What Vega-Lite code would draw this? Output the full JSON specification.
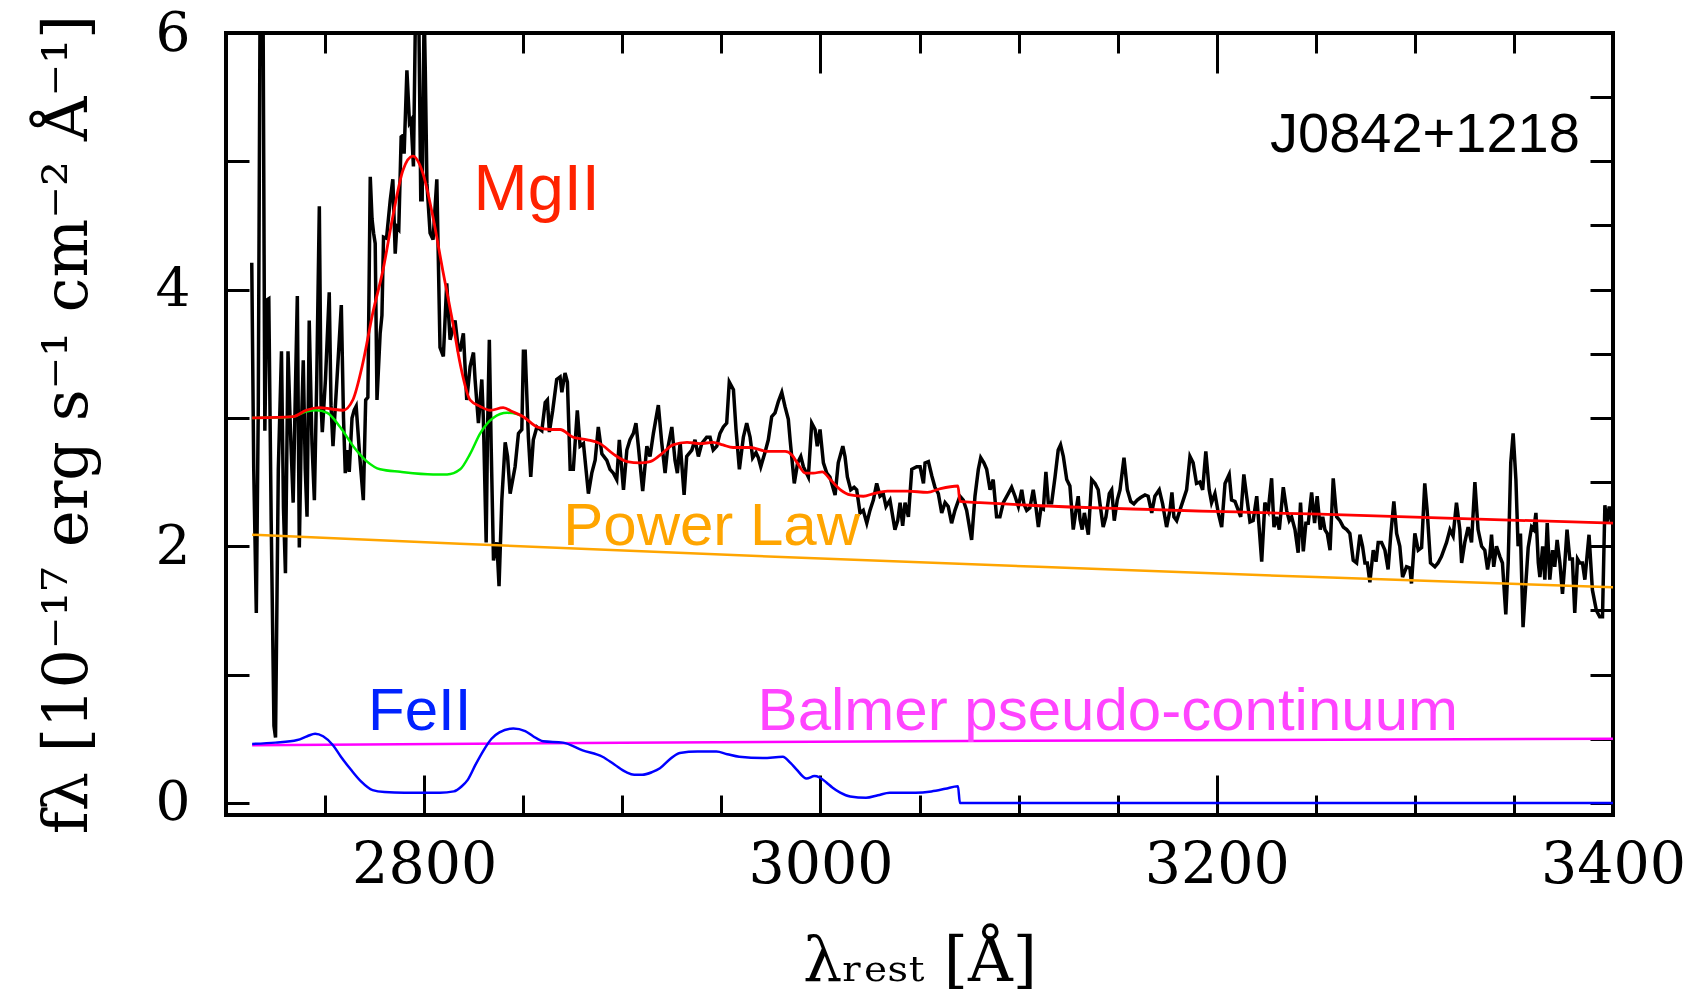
{
"$schema": "https://vega.github.io/schema/vega-lite/v6.json",
"width": 1387, "height": 782,
"autosize": {"type": "none"},
"padding": {"left": 226, "top": 33, "right": 93, "bottom": 186},
"background": "white",
"config": {"view": {"stroke": "black", "strokeWidth": 4}, "axis": {"grid": false, "domain": false, "labelFlush": false, "labelOverlap": false, "labelBound": false, "tickColor": "black", "tickWidth": 3, "labelColor": "black", "titleColor": "black", "labelFont": "DejaVu Serif", "titleFont": "DejaVu Serif", "titleFontWeight": "normal"}},
"resolve": {"axis": {"x": "independent", "y": "independent"}},
"datasets": {
"spectrum": [
{"w":2713.0,"f":4.21},{"w":2714.0,"f":2.6},{"w":2715.3,"f":1.48},{"w":2716.3,"f":3.1},{"w":2717.3,"f":6.6},{"w":2718.6,"f":6.6},{"w":2719.6,"f":2.9},{"w":2720.6,"f":3.92},{"w":2721.6,"f":3.93},{"w":2722.8,"f":2.2},{"w":2724.2,"f":0.6},{"w":2725.0,"f":0.51},{"w":2726.4,"f":2.6},{"w":2728.0,"f":3.52},{"w":2729.0,"f":2.3},{"w":2730.0,"f":1.79},{"w":2731.3,"f":3.52},{"w":2732.5,"f":2.91},{"w":2733.9,"f":2.34},{"w":2735.0,"f":3.2},{"w":2736.0,"f":3.95},{"w":2737.0,"f":1.99},{"w":2738.0,"f":2.9},{"w":2739.0,"f":3.45},{"w":2740.0,"f":2.6},{"w":2740.9,"f":2.23},{"w":2742.0,"f":3.76},{"w":2743.4,"f":2.8},{"w":2744.6,"f":2.36},{"w":2745.8,"f":3.3},{"w":2747.1,"f":4.65},{"w":2748.0,"f":3.1},{"w":2748.6,"f":2.89},{"w":2750.2,"f":3.3},{"w":2752.1,"f":3.98},{"w":2753.0,"f":3.1},{"w":2754.0,"f":2.78},{"w":2756.0,"f":3.3},{"w":2758.2,"f":3.88},{"w":2759.3,"f":3.0},{"w":2760.2,"f":2.57},{"w":2761.2,"f":2.75},{"w":2762.2,"f":2.58},{"w":2763.6,"f":3.0},{"w":2764.7,"f":3.06},{"w":2765.7,"f":3.09},{"w":2767.5,"f":2.7},{"w":2769.3,"f":2.36},{"w":2770.5,"f":3.14},{"w":2771.6,"f":3.16},{"w":2772.8,"f":4.88},{"w":2773.7,"f":4.55},{"w":2774.5,"f":4.44},{"w":2775.3,"f":4.36},{"w":2776.2,"f":3.14},{"w":2777.8,"f":3.66},{"w":2778.7,"f":3.8},{"w":2779.5,"f":4.41},{"w":2781.0,"f":4.4},{"w":2782.9,"f":4.7},{"w":2784.2,"f":4.86},{"w":2785.4,"f":4.28},{"w":2786.2,"f":4.49},{"w":2787.2,"f":4.47},{"w":2788.4,"f":5.19},{"w":2789.2,"f":5.2},{"w":2789.9,"f":5.06},{"w":2791.3,"f":5.71},{"w":2792.6,"f":5.3},{"w":2793.4,"f":5.32},{"w":2794.6,"f":4.96},{"w":2796.0,"f":6.6},{"w":2797.0,"f":6.6},{"w":2798.3,"f":4.7},{"w":2799.0,"f":4.7},{"w":2800.0,"f":6.2},{"w":2800.6,"f":5.69},{"w":2801.4,"f":4.83},{"w":2803.0,"f":4.44},{"w":2804.5,"f":4.39},{"w":2806.4,"f":4.86},{"w":2808.0,"f":3.55},{"w":2809.7,"f":3.48},{"w":2811.4,"f":4.05},{"w":2813.1,"f":3.61},{"w":2815.6,"f":3.76},{"w":2817.3,"f":3.53},
{"w":2818.2,"f":3.53},{"w":2819.8,"f":3.66},{"w":2821.5,"f":3.14},{"w":2823.2,"f":3.4},{"w":2824.9,"f":3.51},{"w":2825.7,"f":3.3},{"w":2827.4,"f":2.96},{"w":2829.1,"f":3.3},{"w":2829.9,"f":2.99},{"w":2831.3,"f":2.03},{"w":2832.0,"f":2.9},{"w":2832.9,"f":3.61},{"w":2833.8,"f":2.8},{"w":2835.0,"f":1.89},{"w":2836.7,"f":2.03},{"w":2837.8,"f":1.69},{"w":2839.2,"f":2.36},{"w":2840.9,"f":2.81},{"w":2842.1,"f":2.7},{"w":2843.4,"f":2.41},{"w":2845.9,"f":2.62},{"w":2847.6,"f":2.88},{"w":2849.3,"f":2.91},{"w":2850.1,"f":3.52},{"w":2851.0,"f":3.52},{"w":2852.6,"f":2.85},{"w":2853.8,"f":2.54},{"w":2855.1,"f":2.83},{"w":2856.9,"f":2.93},{"w":2859.4,"f":2.9},{"w":2861.1,"f":3.12},{"w":2862.2,"f":3.14},{"w":2863.2,"f":2.89},{"w":2864.9,"f":3.06},{"w":2866.9,"f":3.3},{"w":2868.6,"f":3.32},{"w":2869.5,"f":3.2},{"w":2871.1,"f":3.35},{"w":2872.3,"f":3.28},{"w":2873.7,"f":2.6},{"w":2875.3,"f":2.6},{"w":2877.3,"f":3.06},{"w":2878.7,"f":2.78},{"w":2880.4,"f":2.8},{"w":2882.9,"f":2.41},{"w":2884.6,"f":2.57},{"w":2886.3,"f":2.67},{"w":2887.9,"f":2.93},{"w":2889.7,"f":2.72},{"w":2892.2,"f":2.67},{"w":2893.8,"f":2.6},{"w":2895.5,"f":2.57},{"w":2897.2,"f":2.52},{"w":2898.5,"f":2.83},{"w":2900.6,"f":2.44},{"w":2902.3,"f":2.75},{"w":2903.9,"f":2.83},{"w":2905.6,"f":2.88},{"w":2906.9,"f":2.96},{"w":2908.1,"f":2.78},{"w":2910.3,"f":2.43},{"w":2912.4,"f":2.78},{"w":2914.0,"f":2.7},{"w":2915.7,"f":2.88},{"w":2918.2,"f":3.1},{"w":2919.9,"f":2.81},{"w":2921.6,"f":2.57},{"w":2922.8,"f":2.75},{"w":2925.0,"f":2.93},{"w":2926.6,"f":2.67},{"w":2927.8,"f":2.57},{"w":2929.2,"f":2.81},{"w":2931.2,"f":2.4},{"w":2932.5,"f":2.7},{"w":2935.1,"f":2.75},{"w":2936.7,"f":2.83},{"w":2938.4,"f":2.7},{"w":2940.1,"f":2.8},{"w":2942.6,"f":2.85},{"w":2944.3,"f":2.85},{"w":2945.9,"f":2.75},{"w":2947.7,"f":2.78},{"w":2949.3,"f":2.88},{"w":2951.0,"f":2.93},{"w":2952.7,"f":2.96},{"w":2954.0,"f":3.28},{"w":2956.1,"f":3.22},{"w":2957.4,"f":2.91},{"w":2959.1,"f":2.6},{"w":2961.1,"f":2.85},{"w":2962.8,"f":2.96},{"w":2964.5,"f":2.85},{"w":2965.8,"f":2.69},{"w":2967.5,"f":2.73},{"w":2968.7,"f":2.69},{"w":2969.9,"f":2.62},{"w":2972.0,"f":2.73},{"w":2973.7,"f":2.83},{"w":2975.4,"f":3.01},{"w":2977.1,"f":3.04},{"w":2978.8,"f":3.13},{"w":2980.5,"f":3.2},{"w":2982.1,"f":3.09},{"w":2983.8,"f":2.99},{"w":2984.7,"f":2.83},{"w":2986.8,"f":2.49},{"w":2988.5,"f":2.65},{"w":2990.1,"f":2.7},{"w":2991.4,"f":2.62},{"w":2993.9,"f":2.54},{"w":2995.6,"f":2.96},{"w":2997.3,"f":2.91},{"w":2998.4,"f":2.78},{"w":2999.8,"f":2.91},{"w":3001.5,"f":2.65},{"w":3003.2,"f":2.57},{"w":3004.8,"f":2.54},{"w":3007.4,"f":2.4},{"w":3009.0,"f":2.65},{"w":3011.3,"f":2.78},{"w":3012.4,"f":2.7},{"w":3013.6,"f":2.54},{"w":3015.3,"f":2.44},{"w":3017.0,"f":2.46},{"w":3018.3,"f":2.44},{"w":3020.0,"f":2.26},{"w":3021.6,"f":2.28},{"w":3023.4,"f":2.18},{"w":3025.0,"f":2.28},{"w":3026.7,"f":2.36},{"w":3028.4,"f":2.49},{"w":3030.1,"f":2.39},{"w":3031.7,"f":2.41},{"w":3033.1,"f":2.31},{"w":3035.1,"f":2.36},{"w":3037.6,"f":2.13},{"w":3039.0,"f":2.2},{"w":3040.2,"f":2.34},{"w":3041.5,"f":2.16},{"w":3042.7,"f":2.34},{"w":3044.4,"f":2.23},{"w":3046.1,"f":2.6},{"w":3048.6,"f":2.62},{"w":3050.3,"f":2.62},{"w":3052.0,"f":2.49},{"w":3052.8,"f":2.65},{"w":3054.5,"f":2.66},{"w":3056.2,"f":2.55},{"w":3057.8,"f":2.46},{"w":3059.5,"f":2.41},{"w":3061.2,"f":2.26},{"w":3062.9,"f":2.34},{"w":3064.5,"f":2.31},{"w":3066.2,"f":2.18},{"w":3067.9,"f":2.28},{"w":3070.4,"f":2.39},{"w":3072.1,"f":2.36},{"w":3073.8,"f":2.28},{"w":3076.3,"f":2.05},{"w":3078.0,"f":2.39},{"w":3079.7,"f":2.6},{"w":3080.9,"f":2.69},{"w":3082.5,"f":2.65},{"w":3083.9,"f":2.6},{"w":3085.6,"f":2.44},{"w":3087.2,"f":2.52},{"w":3088.9,"f":2.23},{"w":3090.6,"f":2.23},{"w":3092.3,"f":2.34},{"w":3094.8,"f":2.41},{"w":3096.5,"f":2.46},{"w":3098.2,"f":2.39},{"w":3099.9,"f":2.31},
{"w":3101.6,"f":2.44},{"w":3102.7,"f":2.33},{"w":3104.1,"f":2.28},{"w":3105.7,"f":2.3},{"w":3107.4,"f":2.44},{"w":3108.8,"f":2.3},{"w":3110.0,"f":2.15},{"w":3111.3,"f":2.3},{"w":3112.5,"f":2.29},{"w":3113.8,"f":2.58},{"w":3115.0,"f":2.34},{"w":3116.7,"f":2.34},{"w":3118.4,"f":2.54},{"w":3120.0,"f":2.75},{"w":3121.2,"f":2.79},{"w":3122.6,"f":2.7},{"w":3124.3,"f":2.52},{"w":3125.9,"f":2.47},{"w":3127.6,"f":2.13},{"w":3129.0,"f":2.28},{"w":3130.1,"f":2.39},{"w":3131.0,"f":2.21},{"w":3132.1,"f":2.13},{"w":3133.2,"f":2.26},{"w":3135.2,"f":2.09},{"w":3136.9,"f":2.52},{"w":3138.6,"f":2.49},{"w":3140.2,"f":2.44},{"w":3141.1,"f":2.33},{"w":3142.7,"f":2.15},{"w":3144.1,"f":2.23},{"w":3145.8,"f":2.41},{"w":3147.0,"f":2.44},{"w":3148.3,"f":2.2},{"w":3149.8,"f":2.36},{"w":3151.2,"f":2.44},{"w":3153.2,"f":2.69},{"w":3154.9,"f":2.44},{"w":3156.6,"f":2.35},{"w":3158.2,"f":2.33},{"w":3159.9,"f":2.36},{"w":3161.6,"f":2.38},{"w":3163.8,"f":2.4},{"w":3165.4,"f":2.39},{"w":3167.2,"f":2.26},{"w":3168.8,"f":2.39},{"w":3171.0,"f":2.44},{"w":3172.7,"f":2.33},{"w":3174.7,"f":2.15},{"w":3176.4,"f":2.28},{"w":3177.4,"f":2.42},{"w":3178.4,"f":2.23},{"w":3179.8,"f":2.2},{"w":3181.4,"f":2.28},{"w":3183.1,"f":2.36},{"w":3184.8,"f":2.44},{"w":3186.5,"f":2.7},{"w":3188.1,"f":2.65},{"w":3189.8,"f":2.49},{"w":3191.5,"f":2.5},{"w":3192.9,"f":2.44},{"w":3194.5,"f":2.74},{"w":3196.2,"f":2.44},{"w":3197.4,"f":2.34},{"w":3199.1,"f":2.41},{"w":3200.8,"f":2.26},{"w":3202.5,"f":2.15},{"w":3204.2,"f":2.49},{"w":3206.3,"f":2.56},{"w":3207.5,"f":2.36},{"w":3209.2,"f":2.35},{"w":3210.9,"f":2.28},{"w":3212.1,"f":2.23},{"w":3213.7,"f":2.56},{"w":3215.1,"f":2.39},{"w":3216.8,"f":2.19},{"w":3218.4,"f":2.2},{"w":3220.2,"f":2.39},{"w":3221.5,"f":2.13},{"w":3222.7,"f":1.88},{"w":3224.3,"f":2.34},{"w":3226.0,"f":2.28},{"w":3227.7,"f":2.53},{"w":3228.9,"f":2.15},{"w":3230.2,"f":2.23},{"w":3231.6,"f":2.13},{"w":3233.6,"f":2.46},{"w":3235.3,"f":2.28},{"w":3236.6,"f":2.2},{"w":3237.8,"f":2.23},{"w":3239.5,"f":2.13},{"w":3241.1,"f":1.95},{"w":3242.3,"f":2.34},{"w":3243.7,"f":1.96},{"w":3245.0,"f":2.18},{"w":3246.2,"f":2.18},{"w":3247.9,"f":2.42},{"w":3249.4,"f":2.18},{"w":3250.7,"f":2.39},{"w":3252.3,"f":2.13},{"w":3253.5,"f":2.23},{"w":3254.6,"f":2.13},{"w":3255.8,"f":2.1},{"w":3257.2,"f":1.97},{"w":3258.8,"f":2.53},{"w":3260.5,"f":2.23},{"w":3262.2,"f":2.2},{"w":3263.9,"f":2.15},{"w":3265.6,"f":2.13},{"w":3267.2,"f":2.1},{"w":3268.9,"f":1.89},{"w":3270.6,"f":1.87},{"w":3272.3,"f":2.09},{"w":3273.6,"f":2.0},{"w":3274.8,"f":1.87},{"w":3276.0,"f":1.87},{"w":3277.3,"f":1.72},{"w":3279.0,"f":1.97},{"w":3280.4,"f":1.88},{"w":3281.5,"f":2.03},{"w":3283.2,"f":2.03},{"w":3284.9,"f":1.97},{"w":3286.5,"f":1.82},{"w":3287.9,"f":2.1},{"w":3289.4,"f":2.35},{"w":3290.8,"f":2.1},{"w":3292.4,"f":2.0},{"w":3293.8,"f":1.76},{"w":3295.8,"f":1.84},{"w":3297.5,"f":1.83},{"w":3298.3,"f":1.71},{"w":3300.0,"f":2.1},{"w":3301.7,"f":1.97},{"w":3303.4,"f":1.99},{"w":3305.0,"f":2.49},{"w":3306.2,"f":2.28},{"w":3307.9,"f":1.87},{"w":3310.1,"f":1.84},{"w":3311.7,"f":1.87},{"w":3313.4,"f":1.92},{"w":3316.0,"f":2.03},{"w":3317.7,"f":2.13},{"w":3319.3,"f":2.08},{"w":3321.0,"f":2.34},{"w":3322.7,"f":2.13},{"w":3323.6,"f":1.87},{"w":3325.2,"f":2.03},{"w":3326.9,"f":2.15},{"w":3328.6,"f":2.03},{"w":3330.3,"f":2.5},{"w":3331.9,"f":2.13},{"w":3333.7,"f":2.0},{"w":3335.3,"f":1.97},{"w":3336.7,"f":1.82},{"w":3337.8,"f":1.92},{"w":3338.7,"f":2.09},{"w":3339.8,"f":1.84},{"w":3341.2,"f":2.0},{"w":3342.9,"f":1.92},{"w":3344.2,"f":1.87},{"w":3345.9,"f":1.47},{"w":3347.1,"f":1.87},{"w":3348.4,"f":2.65},{"w":3349.6,"f":2.88},{"w":3351.0,"f":2.52},{"w":3352.1,"f":2.0},{"w":3353.3,"f":2.1},{"w":3354.6,"f":1.37},{"w":3356.0,"f":1.71},{"w":3357.2,"f":1.99},{"w":3358.9,"f":2.15},{"w":3360.0,"f":2.13},{"w":3361.1,"f":2.26},{"w":3362.3,"f":1.87},{"w":3363.1,"f":1.76},{"w":3364.5,"f":2.0},{"w":3365.6,"f":1.74},{"w":3366.8,"f":2.18},{"w":3368.1,"f":1.74},{"w":3369.5,"f":1.97},{"w":3370.6,"f":1.84},{"w":3371.8,"f":2.05},{"w":3373.2,"f":1.87},{"w":3374.5,"f":1.63},{"w":3375.7,"f":1.87},{"w":3376.8,"f":2.13},{"w":3378.2,"f":1.9},{"w":3379.5,"f":1.9},{"w":3380.7,"f":1.48},{"w":3382.1,"f":1.9},{"w":3383.2,"f":1.87},{"w":3384.6,"f":1.87},{"w":3385.8,"f":1.74},{"w":3387.9,"f":2.09},{"w":3389.6,"f":1.66},{"w":3391.6,"f":1.5},{"w":3393.3,"f":1.45},{"w":3394.7,"f":1.45},{"w":3395.9,"f":2.32},{"w":3396.9,"f":2.18},{"w":3398.1,"f":2.31},{"w":3399.3,"f":2.18},{"w":3400.0,"f":2.3}
],
"model": [
{"w":2713.2,"f":3.0},{"w":2733.8,"f":3.01},{"w":2740.5,"f":3.06},{"w":2747.2,"f":3.08},{"w":2753.0,"f":3.07},{"w":2759.0,"f":3.06},{"w":2764.0,"f":3.14},{"w":2769.1,"f":3.43},{"w":2774.1,"f":3.82},{"w":2779.2,"f":4.15},{"w":2784.2,"f":4.57},{"w":2789.3,"f":4.93},{"w":2794.3,"f":5.04},{"w":2799.3,"f":4.91},{"w":2804.4,"f":4.57},{"w":2809.4,"f":4.15},{"w":2814.5,"f":3.74},{"w":2818.2,"f":3.42},{"w":2823.2,"f":3.14},{"w":2828.3,"f":3.09},{"w":2833.3,"f":3.06},{"w":2839.9,"f":3.08},{"w":2844.4,"f":3.05},{"w":2850.0,"f":3.01},{"w":2857.0,"f":2.93},{"w":2863.6,"f":2.91},{"w":2868.6,"f":2.91},{"w":2875.2,"f":2.85},{"w":2882.3,"f":2.83},{"w":2888.8,"f":2.8},{"w":2895.4,"f":2.72},{"w":2902.4,"f":2.66},{"w":2909.0,"f":2.65},{"w":2914.0,"f":2.66},{"w":2919.1,"f":2.71},{"w":2925.6,"f":2.79},{"w":2932.7,"f":2.81},{"w":2939.2,"f":2.8},{"w":2945.8,"f":2.81},{"w":2950.8,"f":2.79},{"w":2955.9,"f":2.77},{"w":2964.5,"f":2.77},{"w":2973.1,"f":2.74},{"w":2982.2,"f":2.74},{"w":2985.7,"f":2.71},{"w":2988.3,"f":2.65},{"w":2992.4,"f":2.57},{"w":2996.4,"f":2.57},{"w":3000.9,"f":2.58},{"w":3005.0,"f":2.52},{"w":3010.1,"f":2.44},{"w":3015.1,"f":2.4},{"w":3021.7,"f":2.39},{"w":3026.8,"f":2.41},{"w":3033.8,"f":2.43},{"w":3043.9,"f":2.43},{"w":3054.0,"f":2.42},{"w":3060.6,"f":2.45},{"w":3069.4,"f":2.47},{"w":3070.4,"f":2.35},{"w":3080.5,"f":2.34},{"w":3105.7,"f":2.32},{"w":3252.0,"f":2.25},{"w":3400.0,"f":2.18}
],
"nomgii": [
{"w":2713.2,"f":3.0},{"w":2733.8,"f":3.01},{"w":2740.5,"f":3.05},{"w":2745.5,"f":3.06},{"w":2751.1,"f":3.04},{"w":2757.6,"f":2.93},{"w":2764.2,"f":2.78},{"w":2771.2,"f":2.66},{"w":2777.8,"f":2.6},{"w":2787.9,"f":2.58},{"w":2804.5,"f":2.56},{"w":2811.6,"f":2.56},{"w":2818.2,"f":2.6},{"w":2823.2,"f":2.72},{"w":2828.3,"f":2.88},{"w":2834.8,"f":3.0},{"w":2841.9,"f":3.04},{"w":2846.9,"f":3.03},{"w":2850.0,"f":3.01}
],
"feii": [
{"w":2713.2,"f":0.46},{"w":2725,"f":0.47},{"w":2736,"f":0.49},{"w":2741,"f":0.52},{"w":2745,"f":0.54},{"w":2749,"f":0.52},{"w":2754,"f":0.45},{"w":2758,"f":0.36},{"w":2763,"f":0.26},{"w":2768,"f":0.17},{"w":2774,"f":0.1},{"w":2780,"f":0.085},{"w":2790,"f":0.08},{"w":2808,"f":0.08},{"w":2815,"f":0.09},{"w":2819,"f":0.13},{"w":2822,"f":0.18},{"w":2826,"f":0.3},{"w":2830,"f":0.41},{"w":2834,"f":0.5},{"w":2838,"f":0.55},{"w":2845,"f":0.58},{"w":2851,"f":0.56},{"w":2855,"f":0.52},{"w":2860,"f":0.48},{"w":2870,"f":0.47},{"w":2880,"f":0.41},{"w":2890,"f":0.36},{"w":2896,"f":0.3},{"w":2902,"f":0.24},{"w":2906,"f":0.22},{"w":2910,"f":0.22},{"w":2915,"f":0.24},{"w":2919,"f":0.27},{"w":2924,"f":0.34},{"w":2929,"f":0.39},{"w":2938,"f":0.4},{"w":2947.5,"f":0.4},{"w":2953,"f":0.38},{"w":2959,"f":0.36},{"w":2971,"f":0.35},{"w":2981,"f":0.36},{"w":2985,"f":0.31},{"w":2988,"f":0.26},{"w":2993,"f":0.19},{"w":2997,"f":0.21},{"w":2999.5,"f":0.2},{"w":3003,"f":0.16},{"w":3006,"f":0.12},{"w":3010,"f":0.08},{"w":3015,"f":0.05},{"w":3023,"f":0.04},{"w":3029,"f":0.06},{"w":3035,"f":0.08},{"w":3048,"f":0.08},{"w":3056,"f":0.09},{"w":3063,"f":0.11},{"w":3069.4,"f":0.13},{"w":3070.4,"f":0.0},{"w":3400,"f":0.0}
],
"balmer": [
{"w":2713.2,"f":0.45},{"w":2900,"f":0.47},{"w":3100,"f":0.485},{"w":3400,"f":0.5}
],
"powerlaw": [
{"w":2713.2,"f":2.09},{"w":2818,"f":2.02},{"w":2959,"f":1.93},{"w":3110,"f":1.84},{"w":3250,"f":1.76},{"w":3400,"f":1.68}
],
"labels": [
{"label":"MgII","w":2824.9,"f":4.62},{"label":"Power Law","w":2870.2,"f":2.01},{"label":"FeII","w":2771.7,"f":0.57},{"label":"Balmer pseudo-continuum","w":2968.3,"f":0.57}
],
"object": [{"label":"J0842+1218","w":3226.9,"f":5.07}]
},
"layer": [
{"data": {"name": "spectrum"}, "mark": {"type": "line", "color": "black", "strokeWidth": 3.5, "clip": true},
 "encoding": {
  "x": {"field": "w", "type": "quantitative", "scale": {"domain": [2700, 3400], "nice": false, "zero": false},
        "axis": {"orient": "bottom", "values": [2800, 3000, 3200, 3400], "tickSize": -40, "format": "d", "labelFontSize": 57, "labelPadding": 62, "title": "λᵣₑₛₜ [Å]", "titleFontSize": 62, "titlePadding": 38}},
  "y": {"field": "f", "type": "quantitative", "scale": {"domain": [-0.094, 6], "nice": false, "zero": false},
        "axis": {"orient": "left", "values": [0, 0.5, 1, 1.5, 2, 2.5, 3, 3.5, 4, 4.5, 5, 5.5, 6], "tickSize": -23, "format": "d", "labelExpr": "datum.value % 2 === 0 ? datum.label : ''", "labelFontSize": 55, "labelPadding": 59, "title": "fλ [10⁻¹⁷ erg s⁻¹ cm⁻² Å⁻¹]", "titleFontSize": 62, "titlePadding": 56}}
 }},
{"data": {"name": "powerlaw"}, "mark": {"type": "line", "color": "#ffa500", "strokeWidth": 2.5, "clip": true},
 "encoding": {
  "x": {"field": "w", "type": "quantitative", "scale": {"domain": [2700, 3400], "nice": false, "zero": false},
        "axis": {"orient": "bottom", "values": [2750, 2800, 2850, 2900, 2950, 3000, 3050, 3100, 3150, 3200, 3250, 3300, 3350], "tickSize": -20, "labels": false, "title": null}},
  "y": {"field": "f", "type": "quantitative", "scale": {"domain": [-0.094, 6], "nice": false, "zero": false},
        "axis": {"orient": "right", "values": [0, 0.5, 1, 1.5, 2, 2.5, 3, 3.5, 4, 4.5, 5, 5.5], "tickSize": -23, "labels": false, "title": null}}
 }},
{"data": {"name": "balmer"}, "mark": {"type": "line", "color": "#ff00ff", "strokeWidth": 2.5, "clip": true},
 "encoding": {
  "x": {"field": "w", "type": "quantitative", "scale": {"domain": [2700, 3400], "nice": false, "zero": false},
        "axis": {"orient": "top", "values": [2800, 3000, 3200], "tickSize": -40, "labels": false, "title": null}},
  "y": {"field": "f", "type": "quantitative", "scale": {"domain": [-0.094, 6], "nice": false, "zero": false}, "axis": null}
 }},
{"data": {"name": "feii"}, "mark": {"type": "line", "color": "#0000ff", "strokeWidth": 2.5, "clip": true, "interpolate": "monotone"},
 "encoding": {
  "x": {"field": "w", "type": "quantitative", "scale": {"domain": [2700, 3400], "nice": false, "zero": false},
        "axis": {"orient": "top", "values": [2750, 2850, 2900, 2950, 3050, 3100, 3150, 3250, 3300, 3350], "tickSize": -20, "labels": false, "title": null}},
  "y": {"field": "f", "type": "quantitative", "scale": {"domain": [-0.094, 6], "nice": false, "zero": false}, "axis": null}
 }},
{"data": {"name": "nomgii"}, "mark": {"type": "line", "color": "#00ee00", "strokeWidth": 2.5, "clip": true, "interpolate": "monotone"},
 "encoding": {
  "x": {"field": "w", "type": "quantitative", "scale": {"domain": [2700, 3400], "nice": false, "zero": false}, "axis": null},
  "y": {"field": "f", "type": "quantitative", "scale": {"domain": [-0.094, 6], "nice": false, "zero": false}, "axis": null}
 }},
{"data": {"name": "model"}, "mark": {"type": "line", "color": "#ff0000", "strokeWidth": 2.8, "clip": true, "interpolate": "monotone"},
 "encoding": {
  "x": {"field": "w", "type": "quantitative", "scale": {"domain": [2700, 3400], "nice": false, "zero": false}, "axis": null},
  "y": {"field": "f", "type": "quantitative", "scale": {"domain": [-0.094, 6], "nice": false, "zero": false}, "axis": null}
 }},
{"data": {"name": "labels"}, "transform": [{"filter": "datum.label !== 'MgII'"}], "mark": {"type": "text", "align": "left", "baseline": "alphabetic", "font": "Liberation Sans", "fontSize": 60},
 "encoding": {
  "x": {"field": "w", "type": "quantitative", "scale": {"domain": [2700, 3400], "nice": false, "zero": false}, "axis": null},
  "y": {"field": "f", "type": "quantitative", "scale": {"domain": [-0.094, 6], "nice": false, "zero": false}, "axis": null},
  "text": {"field": "label"},
  "color": {"field": "label", "type": "nominal", "scale": {"domain": ["MgII", "Power Law", "FeII", "Balmer pseudo-continuum"], "range": ["#ff2200", "#ffa500", "#0022ff", "#ff44ff"]}, "legend": null}
 }},
{"data": {"name": "labels"}, "transform": [{"filter": "datum.label === 'MgII'"}], "mark": {"type": "text", "align": "left", "baseline": "alphabetic", "font": "Liberation Sans", "fontSize": 65},
 "encoding": {
  "x": {"field": "w", "type": "quantitative", "scale": {"domain": [2700, 3400], "nice": false, "zero": false}, "axis": null},
  "y": {"field": "f", "type": "quantitative", "scale": {"domain": [-0.094, 6], "nice": false, "zero": false}, "axis": null},
  "text": {"field": "label"},
  "color": {"field": "label", "type": "nominal", "scale": {"domain": ["MgII", "Power Law", "FeII", "Balmer pseudo-continuum"], "range": ["#ff2200", "#ffa500", "#0022ff", "#ff44ff"]}, "legend": null}
 }},
{"data": {"name": "object"}, "mark": {"type": "text", "align": "left", "baseline": "alphabetic", "font": "Liberation Sans", "fontSize": 56, "color": "black"},
 "encoding": {
  "x": {"field": "w", "type": "quantitative", "scale": {"domain": [2700, 3400], "nice": false, "zero": false}, "axis": null},
  "y": {"field": "f", "type": "quantitative", "scale": {"domain": [-0.094, 6], "nice": false, "zero": false}, "axis": null},
  "text": {"field": "label"}
 }}
]
}
